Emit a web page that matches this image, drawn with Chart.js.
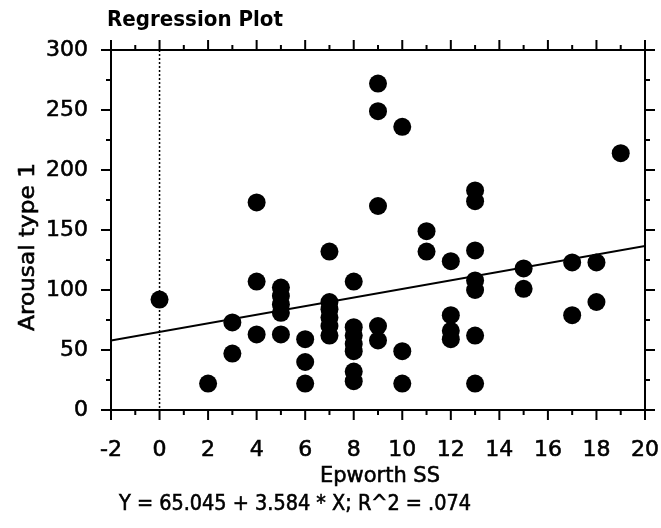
<!DOCTYPE html>
<html>
<head>
<meta charset="utf-8">
<script src="https://cdn.jsdelivr.net/npm/chart.js@4.4.1/dist/chart.umd.min.js"></script>
<style>
  html, body { margin: 0; padding: 0; background: #fff; }
  #wrap { width: 661px; height: 528px; }
</style>
</head>
<body>
<div id="wrap"><canvas id="chart" width="661" height="528"></canvas></div>
<script>
// ------------------------------------------------------------
//  Datos: Epworth SS (x) frente a Arousal type 1 (y)
// ------------------------------------------------------------
const epworth = [
    0, 2, 3, 3, 4, 4, 4,
    5, 5, 5, 5, 5,
    6, 6, 6,
    7, 7, 7, 7, 7, 7,
    8, 8, 8, 8, 8, 8, 8,
    9, 9, 9, 9, 9,
    10, 10, 10,
    11, 11,
    12, 12, 12, 12,
    13, 13, 13, 13, 13, 13, 13,
    15, 15, 17, 17, 18, 18, 19
];
const arousal = [
    92, 22, 73, 47, 173, 107, 63,
    102, 95, 88, 81, 63,
    59, 40, 22,
    132, 90, 84, 77, 70, 62,
    107, 69, 62, 55, 49, 32, 24,
    272, 249, 170, 70, 58,
    236, 49, 22,
    149, 132,
    124, 79, 66, 59,
    183, 174, 133, 108, 100, 62, 22,
    118, 101, 123, 79, 123, 90, 214
];

const xTicks = [-2, 0, 2, 4, 6, 8, 10, 12, 14, 16, 18, 20];
const yTicks = [0, 50, 100, 150, 200, 250, 300];

// recta de regresión
const intercept = 65.045;
const slope = 3.584;
const rSquared = '.074';

const FONT = '"DejaVu Sans", Verdana, sans-serif';

// Escribe un texto ajustado en horizontal al ancho indicado
function textoAncho(ctx, txt, x, y, ancho, grueso) {
    const w = ctx.measureText(txt).width;
    ctx.save();
    ctx.translate(x, y);
    ctx.scale(ancho / w, 1);
    ctx.fillText(txt, 0, 0);
    if (grueso) ctx.strokeText(txt, 0, 0);
    ctx.restore();
}

// ------------------------------------------------------------
//  Marco, marcas de ejes, textos y línea punteada en x = 0
// ------------------------------------------------------------
const framePlugin = {
    id: 'frame',
    beforeDatasetsDraw(chart) {
        const { ctx, chartArea: a, scales: { x } } = chart;
        const px = x.getPixelForValue(0);
        ctx.save();
        ctx.strokeStyle = '#000';
        ctx.lineWidth = 1.5;
        ctx.setLineDash([2, 2]);
        ctx.beginPath();
        ctx.moveTo(px, a.top);
        ctx.lineTo(px, a.bottom);
        ctx.stroke();
        ctx.restore();
    },
    afterDatasetsDraw(chart) {
        const { ctx, chartArea: a, scales: { x, y } } = chart;
        ctx.save();
        ctx.strokeStyle = '#000';
        ctx.lineWidth = 2;
        ctx.strokeRect(a.left, a.top, a.right - a.left, a.bottom - a.top);

        // marcas en x: mayores cada 2, menores cada 1
        ctx.beginPath();
        for (let v = xTicks[0]; v <= xTicks[xTicks.length - 1]; v++) {
            const p = x.getPixelForValue(v);
            const len = xTicks.includes(v) ? 10 : 5;
            ctx.moveTo(p, a.bottom); ctx.lineTo(p, a.bottom + len);
            ctx.moveTo(p, a.top);    ctx.lineTo(p, a.top - len);
        }
        // marcas en y: mayores cada 50, menores cada 25
        for (let v = yTicks[0]; v <= yTicks[yTicks.length - 1]; v += 25) {
            const p = y.getPixelForValue(v);
            const len = yTicks.includes(v) ? 10 : 5;
            ctx.moveTo(a.left, p);  ctx.lineTo(a.left - len, p);
            ctx.moveTo(a.right, p); ctx.lineTo(a.right + len, p);
        }
        ctx.stroke();

        ctx.fillStyle = '#000';
        ctx.lineWidth = 0.6;
        ctx.textBaseline = 'middle';
        ctx.textAlign = 'left';

        // título
        ctx.font = `bold 21px ${FONT}`;
        textoAncho(ctx, 'Regression Plot', 107, 21, 176);

        // etiquetas de los ejes
        ctx.font = `22px ${FONT}`;
        ctx.textAlign = 'right';
        yTicks.forEach(v => {
            const p = y.getPixelForValue(v);
            ctx.fillText(String(v), 88, p);
            ctx.strokeText(String(v), 88, p);
        });
        ctx.textAlign = 'center';
        xTicks.forEach(v => {
            const p = x.getPixelForValue(v);
            ctx.fillText(String(v), p, 450);
            ctx.strokeText(String(v), p, 450);
        });

        ctx.textAlign = 'left';
        ctx.font = `22px ${FONT}`;
        textoAncho(ctx, 'Epworth SS', 320, 476, 120, true);

        ctx.font = `21px ${FONT}`;
        textoAncho(ctx, `Y = ${intercept} + ${slope} * X; R^2 = ${rSquared}`, 119, 505, 352, true);

        ctx.font = `22px ${FONT}`;
        ctx.translate(28, 331);
        ctx.rotate(-Math.PI / 2);
        textoAncho(ctx, 'Arousal type 1', 0, 0, 168, true);
        ctx.restore();
    }
};

const puntos = epworth.map((v, i) => ({ x: v, y: arousal[i] }));
const xMin = xTicks[0], xMax = xTicks[xTicks.length - 1];
const recta = [xMin, xMax].map(v => ({ x: v, y: intercept + slope * v }));

new Chart(document.getElementById('chart'), {
    type: 'scatter',
    data: {
        datasets: [
            {
                data: puntos,
                backgroundColor: '#000',
                borderWidth: 0,
                pointRadius: 9,
                pointHoverRadius: 9
            },
            {
                type: 'line',
                data: recta,
                borderColor: '#000',
                borderWidth: 2,
                pointRadius: 0,
                fill: false
            }
        ]
    },
    options: {
        responsive: false,
        animation: false,
        layout: { padding: { left: 111, right: 16, top: 50, bottom: 118 } },
        scales: {
            x: { type: 'linear', display: false, min: xMin, max: xMax },
            y: { type: 'linear', display: false, min: yTicks[0], max: yTicks[yTicks.length - 1] }
        },
        plugins: {
            legend: { display: false },
            tooltip: { enabled: false }
        }
    },
    plugins: [framePlugin]
});
</script>
</body>
</html>
